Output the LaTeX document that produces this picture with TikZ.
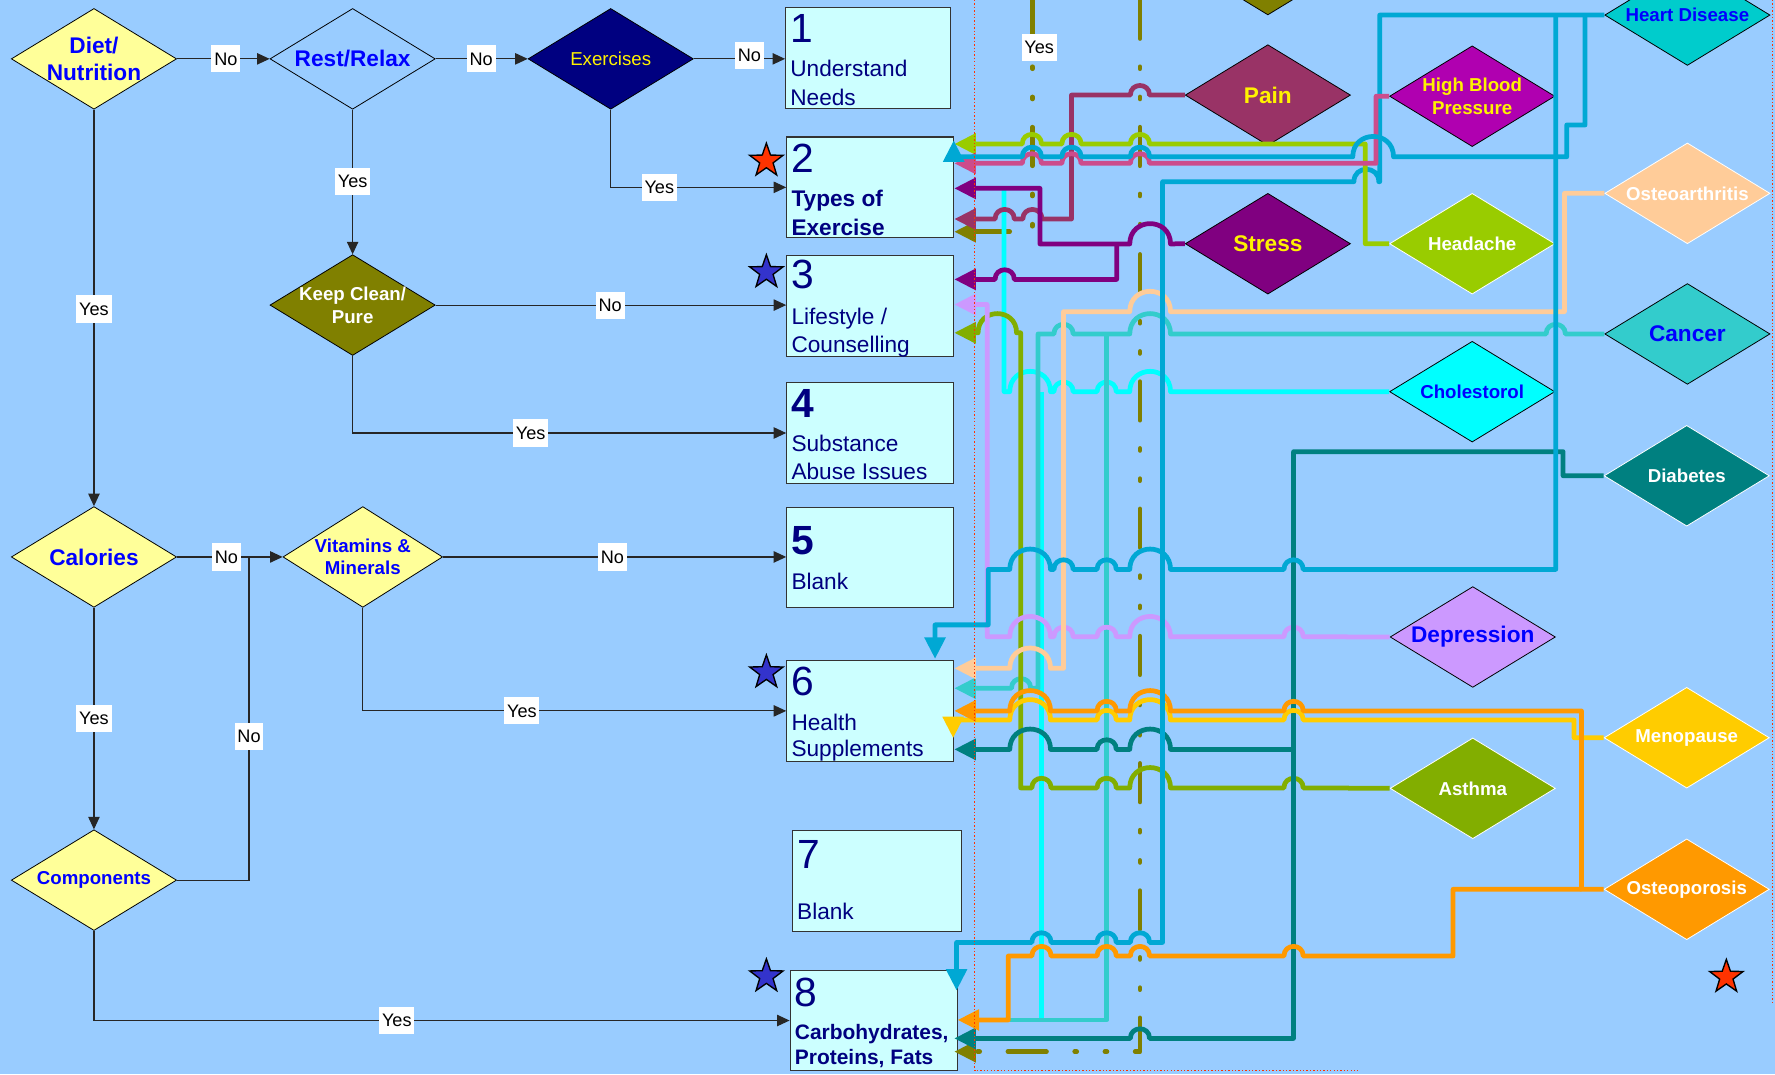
\documentclass[tikz,border=0pt]{standalone}
\usepackage{fontspec}
\setmainfont{Liberation Sans}
\usetikzlibrary{shapes.geometric,arrows.meta}
\definecolor{bg}{HTML}{99CCFF}
\definecolor{boxf}{HTML}{CCFFFF}
\definecolor{navyt}{HTML}{000080}
\definecolor{dyel}{HTML}{FFFF99}
\definecolor{cLime}{HTML}{99CC00}
\definecolor{cHeart}{RGB}{0,168,212}
\definecolor{cHeartD}{HTML}{00CCCC}
\definecolor{cPink}{RGB}{204,76,140}
\definecolor{cPain}{HTML}{993366}
\definecolor{cHBP}{RGB}{176,0,176}
\definecolor{cStress}{HTML}{800080}
\definecolor{cOlive}{HTML}{808000}
\definecolor{cCyan}{HTML}{00FFFF}
\definecolor{cCancer}{HTML}{33CCCC}
\definecolor{cPeach}{HTML}{FFCC99}
\definecolor{cLav}{HTML}{CC99FF}
\definecolor{cDiab}{HTML}{008080}
\definecolor{cOrange}{HTML}{FF9900}
\definecolor{cYel}{HTML}{FFCC00}
\definecolor{cAsth}{RGB}{130,174,0}
\definecolor{cRed}{HTML}{FF3300}
\definecolor{cStarB}{HTML}{3333CC}
\newcommand{\hopL}[3]{-- ({#1+#3},#2) .. controls ({#1+#3},{#2-1.33*#3}) and ({#1-#3},{#2-1.33*#3}) .. ({#1-#3},#2)}
\begin{document}
\begin{tikzpicture}[x=1pt,y=-1pt,
  dia/.style={diamond, minimum width=146pt, minimum height=89pt, inner sep=0pt, draw=black, line width=0.7pt},
  dtb/.style={font=\bfseries\fontsize{20}{24}\selectfont, align=center, inner sep=0pt},
  dtm/.style={font=\bfseries\fontsize{16.5}{20}\selectfont, align=center, inner sep=0pt},
  dtr/.style={font=\fontsize{16.5}{20}\selectfont, align=center, inner sep=0pt},
  bx/.style={draw=black!80, line width=1pt, fill=boxf, minimum width=147pt, minimum height=89pt, inner sep=0pt},
  bn/.style={anchor=base west, inner sep=0pt, text=navyt, font=\fontsize{36}{36}\selectfont},
  bt/.style={anchor=base west, inner sep=0pt, text=navyt, font=\fontsize{20}{24}\selectfont},
  btb/.style={bt, font=\bfseries\fontsize{20}{24}\selectfont},
  flow/.style={draw=black!85, line width=1pt},
  far/.style={-{Triangle[length=11pt,width=10pt]}},
  lbl/.style={fill=white, inner xsep=2.5pt, inner ysep=0pt, minimum height=24pt, text=black, font=\fontsize{16}{16}\selectfont},
  cl/.style={line width=4.2pt, line join=round},
  ar/.style={-{Triangle[length=19pt,width=18pt]}},
  dd/.style={dash pattern=on 34pt off 25pt on 1.7pt off 25pt on 1.7pt off 25pt, line cap=round},
  rdot/.style={draw=cRed, line width=0.9pt, dash pattern=on 1.2pt off 1.8pt},
  strs/.style={star, star points=5, star point ratio=2.5, minimum size=31pt, inner sep=0pt, draw=black, line width=1.2pt}
]
\useasboundingbox (0,0) rectangle (1568,949);
\clip (0,0) rectangle (1568,949);
\fill[bg] (0,0) rectangle (1568,949);

% ---------- flowchart diamonds ----------
\node[dia, fill=dyel] (diet) at (83,52) {};
\node[dtb, text=blue] (diet-t) at (diet) {Diet/\\Nutrition};
\node[dia, fill=bg] (rest) at (311.5,52) {};
\node[dtb, text=blue] (rest-t) at (rest) {Rest/Relax};
\node[dia, fill=navyt] (ex) at (539.5,52) {};
\node[dtr, text=yellow] (ex-t) at (ex) {Exercises};
\node[dia, fill=cOlive] (keep) at (311.5,269.5) {};
\node[dtm, text=white] (keep-t) at (keep) {Keep Clean/\\Pure};
\node[dia, fill=dyel] (cal) at (83,492) {};
\node[dtb, text=blue] (cal-t) at (cal) {Calories};
\node[dia, fill=dyel, minimum width=141pt] (vit) at (320.5,492) {};
\node[dtm, text=blue] (vit-t) at (vit) {Vitamins \&\\Minerals};
\node[dia, fill=dyel] (comp) at (83,777.5) {};
\node[dtm, text=blue] (comp-t) at (comp) {Components};

% ---------- boxes ----------
\node[bx, minimum width=146pt] (b1) at (767,51.5) {};
\node[bn] (b1n) at (698,37.5) {1};
\node[bt] (b1a) at (698,67.7) {Understand};
\node[bt] (b1b) at (698,92.8) {Needs};
\node[bx] (b2) at (768.5,165.5) {};
\node[bn] (b2n) at (699,152) {2};
\node[btb] (b2a) at (699,182.6) {Types of};
\node[btb] (b2b) at (699,207.6) {Exercise};
\node[bx] (b3) at (768.5,270.5) {};
\node[bn] (b3n) at (699,254.7) {3};
\node[bt] (b3a) at (699,287) {Lifestyle /};
\node[bt] (b3b) at (699,311) {Counselling};
\node[bx] (b4) at (768.5,382.5) {};
\node[bn, font=\bfseries\fontsize{36}{36}\selectfont] (b4n) at (699,368.7) {4};
\node[bt] (b4a) at (699,399) {Substance};
\node[bt] (b4b) at (699,424) {Abuse Issues};
\node[bx] (b5) at (768.5,492.5) {};
\node[bn, font=\bfseries\fontsize{36}{36}\selectfont] (b5n) at (699,490) {5};
\node[bt] (b5a) at (699,520.6) {Blank};
\node[bx] (b6) at (768.5,628) {};
\node[bn] (b6n) at (699,614) {6};
\node[bt] (b6a) at (699,645) {Health};
\node[bt] (b6b) at (699,668) {Supplements};
\node[bx, minimum width=149pt] (b7) at (774.5,778.5) {};
\node[bn] (b7n) at (704,767) {7};
\node[bt] (b7a) at (704,812.5) {Blank};
\node[bx, minimum width=148pt] (b8) at (772,901.5) {};
\node[bn] (b8n) at (702,889) {8};
\node[btb, font=\bfseries\fontsize{18.5}{22}\selectfont] (b8a) at (702,918.6) {Carbohydrates,};
\node[btb, font=\bfseries\fontsize{18.5}{22}\selectfont] (b8b) at (702,940.6) {Proteins, Fats};

% ---------- stars ----------
\node[strs, fill=cRed] (st2) at (677,142) {};
\node[strs, fill=cStarB] (st3) at (677,240.5) {};
\node[strs, fill=cStarB] (st6) at (677,594) {};
\node[strs, fill=cStarB] (st8) at (677,862.5) {};
\node[strs, fill=cRed] (stR) at (1525,863) {};

% ---------- flow connectors ----------
\coordinate (cj2) at (220,492);
\draw[flow,far] (diet.east) -- (rest.west);
\draw[flow,far] (rest.east) -- (ex.west);
\draw[flow,far] (ex.east) -- (ex.east -| b1.west);
\draw[flow,far] (ex.south) |- (b2.west);
\draw[flow,far] (rest.south) -- (keep.north);
\draw[flow,far] (keep.east) -- (keep.east -| b3.west);
\draw[flow,far] (keep.south) |- (b4.west);
\draw[flow,far] (diet.south) -- (cal.north);
\draw[flow,far] (cal.east) -- (vit.west);
\draw[flow,far] (vit.east) -- (vit.east -| b5.west);
\draw[flow,far] (vit.south) |- (b6.west);
\draw[flow,far] (cal.south) -- (comp.north);
\draw[flow] (comp.east) -| (cj2);
\draw[flow,far] (comp.south) |- (b8.west);

\node[lbl] (l1) at (199.5,52) {No};
\node[lbl] (l2) at (425,52) {No};
\node[lbl] (l3) at (662,49) {No};
\node[lbl] (l4) at (311.5,160) {Yes};
\node[lbl] (l5) at (582.4,165.5) {Yes};
\node[lbl] (l6) at (83,273) {Yes};
\node[lbl] (l7) at (539,270) {No};
\node[lbl] (l8) at (468.8,382.5) {Yes};
\node[lbl] (l9) at (200,492) {No};
\node[lbl] (l10) at (541,492) {No};
\node[lbl] (l11) at (461,628) {Yes};
\node[lbl] (l12) at (83,635) {Yes};
\node[lbl] (l13) at (220,650.6) {No};
\node[lbl] (l14) at (350.5,901.5) {Yes};

% ---------- disease diamonds ----------
\node[dia, fill=cOlive] (oltop) at (1120,-31.3) {};
\node[dia, fill=cHeartD] (hd) at (1490.6,13.3) {};
\node[dia, fill=cPain] (pain) at (1120,84) {};
\node[dia, fill=cHBP] (hbp) at (1300.5,85) {};
\node[dia, fill=cPeach, draw=white] (oa) at (1490.6,170.8) {};
\node[dia, fill=cStress] (stress) at (1120,215.3) {};
\node[dia, fill=cLime, draw=white] (hea) at (1300.5,215.3) {};
\node[dia, fill=cCancer] (can) at (1490.6,295) {};
\node[dia, fill=cCyan] (cho) at (1300.5,346) {};
\node[dia, fill=cDiab, draw=white] (diab) at (1490,420.3) {};
\node[dia, fill=cLav] (dep) at (1301,562.7) {};
\node[dia, fill=cYel, draw=white] (men) at (1490,651.7) {};
\node[dia, fill=cAsth, draw=white] (ast) at (1301,696.4) {};
\node[dia, fill=cOrange, draw=white] (ost) at (1490,785.6) {};

\node[dtm, text=blue] (hd-t) at (hd) {Heart Disease};
\node[dtb, text=yellow] (pain-t) at (pain) {Pain};
\node[dtm, text=yellow] (hbp-t) at (hbp) {High Blood\\Pressure};
\node[dtm, text=white] (oa-t) at (oa) {Osteoarthritis};
\node[dtb, text=yellow] (stress-t) at (stress) {Stress};
\node[dtm, text=white] (hea-t) at (hea) {Headache};
\node[dtb, text=blue] (can-t) at (can) {Cancer};
\node[dtm, text=blue] (cho-t) at (cho) {Cholestorol};
\node[dtm, text=white] (diab-t) at (diab) {Diabetes};
\node[dtb, text=blue] (dep-t) at (dep) {Depression};
\node[dtm, text=white] (men-t) at (men) {Menopause};
\node[dtm, text=white] (ast-t) at (ast) {Asthma};
\node[dtm, text=white] (ost-t) at (ost) {Osteoporosis};

% ---------- connector end points ----------
\coordinate (tA) at (843,127.2);
\coordinate (tB) at (843,144.3);
\coordinate (tH1) at (845,875);
\coordinate (tH2) at (842.5,124);
\coordinate (tH3) at (826,582);
\coordinate (tP) at (843,193.5);
\coordinate (tS1) at (843,166.4);
\coordinate (tS2) at (843,246.8);
\coordinate (tOA) at (843,590.4);
\coordinate (tC) at (843,608);
\coordinate (tCh) at (887,168);
\coordinate (chj) at (920,346);
\coordinate (tD1) at (843,662);
\coordinate (tD2) at (843,917.3);
\coordinate (tDep) at (843,269);
\coordinate (tM) at (842,652);
\coordinate (tO1) at (843,628);
\coordinate (tO2) at (846,901);
\coordinate (tAs) at (843,294);
\coordinate (olA) at (912,0);
\coordinate (olB) at (1007,0);
\coordinate (tOl1) at (843,204.7);
\coordinate (tOl2) at (843,929);

% ---------- olive dash-dot lines ----------
\draw[cl,cOlive,dd,ar] (olA) -- (912,204.7) -- (tOl1);
\draw[cl,cOlive,dd,ar] (olB) -- (1007,929) -- (tOl2);
\node[lbl] (lY) at (918,42) {Yes};

% ---------- colored connectors ----------
% Cholestorol
\draw[cl,cCyan] (chj) -- (920,900);
\draw[cl,cCyan] (cho.west) \hopL{1016}{346}{18} \hopL{977.6}{346}{8.5} \hopL{939.5}{346}{8.5} \hopL{910}{346}{18} -- (887,346) -- (tCh);
% Cancer
\draw[cl,cCancer,ar] (can.west) \hopL{1374.3}{295}{8.5} \hopL{1016}{295}{18} -- (977.6,295) coordinate (cj) \hopL{939.5}{295}{8.5} -- (917,295) -- (917,608) \hopL{902}{608}{8.5} -- (tC);
\draw[cl,cCancer] (cj) -- (977.6,901) -- (892,901);
% Asthma
\draw[cl,cAsth,ar] (ast.west) \hopL{1142.7}{696}{8.5} \hopL{1016}{696}{18} \hopL{977.6}{696}{8.5} \hopL{920}{696}{8.5} -- (901.6,696) -- (901.6,294) \hopL{881}{294}{17} -- (tAs);
% Depression
\draw[cl,cLav,ar] (dep.west) \hopL{1142.7}{562.5}{8.5} \hopL{1016}{562.5}{18} \hopL{977.6}{562.5}{8.5} \hopL{939.5}{562.5}{8.5} \hopL{910}{562.5}{18} -- (872,562.5) -- (872,269) -- (tDep);
% Osteoarthritis
\draw[cl,cPeach,ar] (oa.west) -- (1382,170.8) -- (1382,275.3) \hopL{1016}{275.3}{18} -- (939.5,275.3) -- (939.5,590.4) \hopL{910}{590.4}{18} -- (tOA);
% Diabetes
\draw[cl,cDiab,ar] (diab.west) -- (1380.8,420.3) -- (1380.8,399) -- (1142.7,399) -- (1142.7,662) coordinate (dj) -- (1142.7,917.3) \hopL{1007}{917.3}{8.5} -- (tD2);
\draw[cl,cDiab,ar] (dj) \hopL{1016}{662}{18} \hopL{977.6}{662}{8.5} \hopL{910}{662}{18} -- (tD1);
% Menopause
\draw[cl,cYel,ar] (men.west) -- (1390.5,651.7) -- (1390.5,636) \hopL{1142.7}{636}{8.5} \hopL{1016}{636}{18} \hopL{977.6}{636}{8.5} \hopL{910}{636}{18} -- (842,636) -- (tM);
% Osteoporosis
\draw[cl,cOrange,ar] (ost.west) -- (1397,785.6) coordinate (oj) -- (1397,628) \hopL{1142.7}{628}{8.5} \hopL{1016}{628}{18} \hopL{977.6}{628}{8.5} \hopL{910}{628}{18} -- (tO1);
\draw[cl,cOrange,ar] (oj) -- (1283.6,785.6) -- (1283.6,844.5) \hopL{1142.7}{844.5}{8.5} \hopL{1007}{844.5}{8.5} \hopL{977.6}{844.5}{8.5} \hopL{920}{844.5}{8.5} -- (890.7,844.5) -- (890.7,901) -- (tO2);
% Heart disease
\draw[cl,cHeart,ar] (hd.west) -- (1400.2,13.3) coordinate (hj1) -- (1374.3,13.3) coordinate (hj2) -- (1218.8,13.3) -- (1218.8,160.5) \hopL{1207}{160.5}{11} -- (1027,160.5) -- (1027,832.5) \hopL{1007}{832.5}{8.5} \hopL{977.6}{832.5}{8.5} \hopL{920}{832.5}{8.5} -- (845,832.5) -- (tH1);
\draw[cl,cHeart,ar] (hj2) -- (1374.3,503) \hopL{1142.7}{503}{8.5} \hopL{1016}{503}{18} \hopL{977.6}{503}{8.5} \hopL{939.5}{503}{8.5} \hopL{910}{503}{18} -- (873,503) -- (873,552) -- (826,552) -- (tH3);
% Pain
\draw[cl,cPain,ar] (pain.west) \hopL{1007}{84}{8.5} -- (946.5,84) -- (946.5,193.5) \hopL{912}{193.5}{8.5} \hopL{887.5}{193.5}{8.5} -- (tP);
% Stress
\draw[cl,cStress,ar] (stress.west) \hopL{1016}{215.5}{18} -- (986.4,215.5) coordinate (sj) -- (918.7,215.5) -- (918.7,166.4) -- (tS1);
\draw[cl,cStress,ar] (sj) -- (986.4,246.8) \hopL{887.5}{246.8}{8.5} -- (tS2);
% Headache
\draw[cl,cLime,ar] (hea.west) -- (1206,215.3) -- (1206,127.2) \hopL{1007}{127.2}{8.5} \hopL{946.5}{127.2}{8.5} \hopL{911.5}{127.2}{8.5} -- (tA);
% High blood pressure
\draw[cl,cPink,ar] (hbp.west) -- (1215.6,85) -- (1215.6,144.3) \hopL{1007}{144.3}{8.5} \hopL{946.5}{144.3}{8.5} \hopL{911.5}{144.3}{8.5} -- (tB);
% Heart disease to box 2
\draw[cl,cHeart,ar] (hj1) -- (1400.2,110.4) -- (1384,110.4) -- (1384,138.5) \hopL{1213}{138.5}{18} \hopL{1007}{138.5}{8.5} \hopL{946.5}{138.5}{8.5} \hopL{911.5}{138.5}{8.5} -- (842.5,138.5) -- (tH2);

% ---------- red dotted guides ----------
\draw[rdot] (861,0) -- (861,946) -- (1200,946);
\draw[rdot] (1566,0) -- (1566,886);
\end{tikzpicture}
\end{document}
